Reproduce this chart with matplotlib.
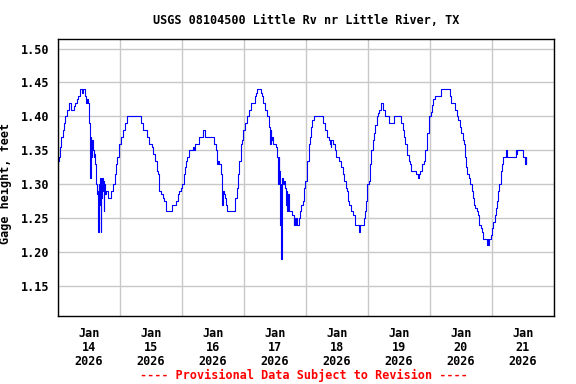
import numpy as np
import matplotlib
matplotlib.use("Agg")
import matplotlib.pyplot as plt

# hours after Jan 14 2026 00:00, gage height (ft)
hours = [
    0.0, 0.3, 0.8, 1.3, 1.8, 2.2, 2.8, 3.35, 4.4, 4.9, 6.2, 6.7, 7.2, 7.7, 8.5, 9.2, 9.5,
    10.3, 10.8, 11.3, 11.6, 11.9, 12.2, 12.4, 12.6, 12.9, 13.1, 13.5, 13.8, 14.1, 14.5,
    14.7, 15.0, 15.4, 15.6, 15.8, 16.0, 16.2, 16.5, 16.7, 17.0, 17.3, 17.5, 17.7, 17.9,
    18.1, 18.4, 19.0, 19.4, 20.6, 21.2, 22.0, 22.5, 23.0, 23.7, 24.3, 25.0, 25.8, 26.6,
    31.5, 32.0, 33.0, 34.1, 34.5, 35.4, 36.2, 36.9, 37.5, 38.2, 38.8, 39.2, 40.0, 40.5,
    41.2, 41.8, 43.9, 44.2, 45.7, 46.3, 47.0, 47.5, 48.1, 48.6, 49.1, 49.6, 50.1, 50.6,
    52.2, 52.4, 52.6, 53.0, 54.5, 55.9, 56.2, 56.8, 59.9, 60.2, 61.2, 61.5, 61.8, 62.4,
    63.0, 63.3, 63.5, 63.8, 64.3, 64.8, 65.2, 65.5, 68.4, 68.7, 69.2, 69.7, 70.2, 70.7,
    71.2, 71.7, 72.4, 73.3, 73.9, 74.6, 75.6, 76.1, 76.5, 76.9, 78.2, 78.5, 79.0, 79.5,
    80.3, 81.0, 81.8, 82.1, 82.3, 82.6, 82.9, 83.2, 83.6, 84.3, 84.9, 85.1, 85.4, 85.7,
    85.9, 86.2, 86.5, 86.8, 87.1, 87.5, 88.0, 88.4, 88.6, 88.8, 89.1, 89.6, 90.6, 91.2,
    91.4, 91.7, 92.3, 92.6, 93.2, 93.7, 94.2, 94.7, 95.2, 95.7, 96.5, 97.0, 97.5, 97.9,
    98.4, 99.1, 102.2, 102.7, 103.5, 104.3, 104.8, 105.2, 105.5, 105.8, 106.3, 107.1,
    107.8, 108.6, 109.4, 110.2, 110.9, 111.5, 112.0, 112.3, 112.8, 113.3, 114.3, 114.9,
    116.5, 116.7, 117.0, 118.1, 118.3, 118.8, 119.2, 119.7, 120.2, 120.7, 121.3, 121.8,
    122.3, 122.8, 123.4, 123.9, 124.4, 125.2, 125.7, 126.7, 128.3, 129.6, 130.1, 132.1,
    132.6, 133.4, 133.9, 134.4, 135.2, 135.7, 136.2, 136.8, 138.1, 138.4, 139.4, 139.7,
    140.1, 140.3, 141.0, 141.7, 142.2, 142.7, 143.0, 143.5, 143.8, 144.3, 144.8, 145.3,
    145.8, 148.2, 151.5, 151.8, 152.3, 153.6, 154.3, 154.9, 155.6, 156.1, 156.6, 157.2,
    157.4, 157.9, 158.5, 159.0, 159.5, 160.1, 160.6, 161.1, 161.6, 162.0, 162.6, 163.1,
    163.6, 164.1, 164.7, 166.0, 166.3, 166.5, 167.0, 167.5, 168.0, 168.5, 169.0, 169.6,
    170.1, 170.4, 170.8, 171.3, 171.8, 172.1, 173.3, 173.5, 173.8, 177.0, 177.2, 177.4,
    177.6, 179.6, 179.9, 180.7, 180.9, 181.0, 181.2,
]
gage = [
    1.335, 1.34, 1.355, 1.37, 1.38, 1.39, 1.40, 1.41, 1.42, 1.41, 1.415, 1.42, 1.425, 1.43, 1.44, 1.435, 1.44,
    1.43, 1.42, 1.425, 1.42, 1.39, 1.385, 1.31, 1.37, 1.34, 1.365, 1.35, 1.34, 1.345, 1.33,
    1.30, 1.285, 1.29, 1.23, 1.30, 1.27, 1.31, 1.23, 1.28, 1.31, 1.29, 1.305, 1.26, 1.30,
    1.285, 1.29, 1.29, 1.28, 1.29, 1.30, 1.315, 1.33, 1.34, 1.36, 1.37, 1.38, 1.39, 1.40,
    1.40, 1.39, 1.38, 1.38, 1.37, 1.36, 1.355, 1.345, 1.335, 1.32, 1.315, 1.29, 1.285, 1.28,
    1.275, 1.26, 1.26, 1.27, 1.275, 1.285, 1.29, 1.295, 1.30, 1.315, 1.325, 1.335, 1.34, 1.35,
    1.35, 1.355, 1.35, 1.36, 1.37, 1.37, 1.38, 1.37, 1.37, 1.36, 1.35, 1.33, 1.335, 1.33,
    1.315, 1.29, 1.27, 1.29, 1.285, 1.28, 1.27, 1.26, 1.26, 1.28, 1.295, 1.315, 1.335, 1.36,
    1.365, 1.38, 1.39, 1.40, 1.41, 1.42, 1.42, 1.43, 1.435, 1.44, 1.44, 1.435, 1.43, 1.42,
    1.41, 1.40, 1.385, 1.36, 1.38, 1.365, 1.37, 1.36, 1.36, 1.355, 1.34, 1.30, 1.34, 1.32,
    1.24, 1.30, 1.19, 1.31, 1.30, 1.305, 1.295, 1.27, 1.29, 1.26, 1.285, 1.26, 1.255, 1.24,
    1.25, 1.24, 1.25, 1.24, 1.25, 1.26, 1.27, 1.275, 1.295, 1.305, 1.335, 1.36, 1.37, 1.385,
    1.395, 1.40, 1.40, 1.39, 1.38, 1.37, 1.365, 1.36, 1.355, 1.365, 1.36, 1.35,
    1.34, 1.335, 1.325, 1.315, 1.305, 1.295, 1.29, 1.275, 1.27, 1.26, 1.255, 1.24,
    1.24, 1.23, 1.24, 1.24, 1.25, 1.26, 1.275, 1.30, 1.305, 1.33, 1.35, 1.365,
    1.375, 1.387, 1.40, 1.405, 1.41, 1.42, 1.41, 1.40, 1.39, 1.39, 1.40, 1.40,
    1.39, 1.38, 1.37, 1.36, 1.343, 1.335, 1.33, 1.32, 1.32, 1.315, 1.31, 1.315,
    1.315, 1.32, 1.33, 1.335, 1.35, 1.355, 1.375, 1.38, 1.40, 1.407, 1.417, 1.425,
    1.43, 1.44, 1.44, 1.43, 1.42, 1.41, 1.40, 1.395, 1.385, 1.375, 1.365, 1.36,
    1.34, 1.325, 1.315, 1.31, 1.30, 1.29, 1.28, 1.27, 1.265, 1.26, 1.255, 1.24,
    1.235, 1.23, 1.22, 1.21, 1.22, 1.21, 1.22, 1.225, 1.235, 1.245, 1.255, 1.265,
    1.275, 1.29, 1.30, 1.32, 1.33, 1.34, 1.34, 1.35, 1.34, 1.34, 1.35, 1.345,
    1.35, 1.35, 1.34, 1.34, 1.33, 1.34, 1.33,
]

day_labels = ['Jan\n14\n2026', 'Jan\n15\n2026', 'Jan\n16\n2026', 'Jan\n17\n2026',
              'Jan\n18\n2026', 'Jan\n19\n2026', 'Jan\n20\n2026', 'Jan\n21\n2026']
y_ticks = [1.15, 1.20, 1.25, 1.30, 1.35, 1.40, 1.45, 1.50]

font = {'family': 'DejaVu Sans Mono', 'weight': 'bold', 'size': 8.5}

fig = plt.figure(figsize=(5.76, 3.84), dpi=100)
ax = fig.add_axes([58/576, 1-316/384, 496/576, 277/384])

days = np.array(hours) / 24.0
ax.plot(days, gage, color='blue', linewidth=0.8, drawstyle='steps-post')

ax.set_xlim(0, 8)
ax.set_ylim(1.106, 1.514)

# gridlines at midnight, labels centred on each day
ax.set_xticks(range(0, 9))
ax.set_xticklabels([])
ax.set_xticks(np.arange(len(day_labels)) + 0.5, minor=True)
ax.set_xticklabels(day_labels, minor=True, fontdict=font, linespacing=1.1)
ax.set_yticks(y_ticks)
ax.set_yticklabels(['%.2f' % v for v in y_ticks], fontdict=font)
ax.tick_params(axis='both', which='both', length=0)
ax.tick_params(axis='x', which='minor', pad=8)
ax.tick_params(axis='y', pad=6)
ax.grid(True, which='major', color='#c8c8c8', linewidth=1.0)
ax.set_axisbelow(True)
for s in ax.spines.values():
    s.set_linewidth(1.0)
    s.set_color('black')

ax.set_ylabel('Gage height, feet', fontdict=font)
ax.yaxis.set_label_coords(-0.093, 0.48)

fig.text(306/576, 1-21/384, 'USGS 08104500 Little Rv nr Little River, TX',
         ha='center', va='center', fontdict=font)
fig.text(304/576, 1-375/384, '---- Provisional Data Subject to Revision ----',
         ha='center', va='center', color='red', fontdict=font)

fig.savefig('out.png', dpi=100)
